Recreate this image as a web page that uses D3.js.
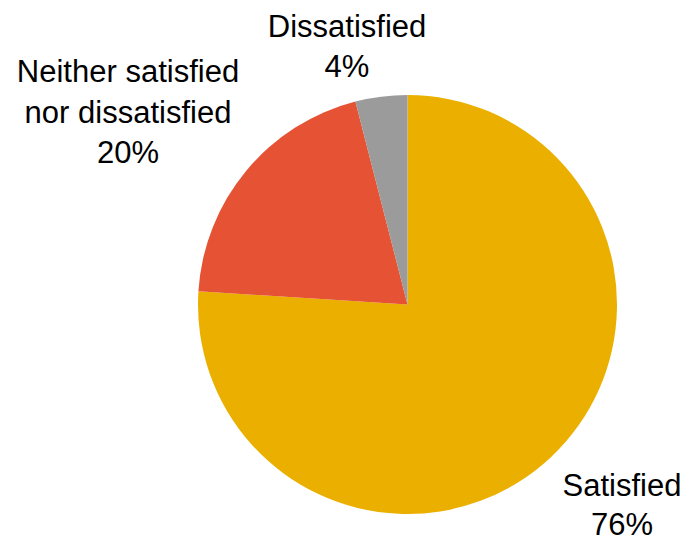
<!DOCTYPE html>
<html>
<head>
<meta charset="utf-8">
<script src="https://cdn.jsdelivr.net/npm/d3@7"></script>
<style>
  html, body { margin: 0; padding: 0; background: #fff; }
  svg { display: block; }
</style>
</head>
<body>
<svg id="chart" width="689" height="542"></svg>
<script>
// Satisfaction breakdown (percent), drawn clockwise from 12 o'clock
const categories = ["Satisfied", "Neither satisfied nor dissatisfied", "Dissatisfied"];
const values = [76, 20, 4];
const labelLines = [
  ["Satisfied", "76%"],
  ["Neither satisfied", "nor dissatisfied", "20%"],
  ["Dissatisfied", "4%"]
];
const colors = ["#EBAF00", "#E55234", "#9B9B9B"];

const svg = d3.select("#chart");
const cx = 407.5, cy = 304.5, radius = 209.5;

const pie = d3.pie().sort(null).value(d => d.value);
const arcs = pie(categories.map((c, i) => ({ name: c, value: values[i], idx: i })));
const arc = d3.arc().innerRadius(0).outerRadius(radius);

const g = svg.append("g").attr("transform", `translate(${cx},${cy})`);
g.selectAll("path")
  .data(arcs)
  .join("path")
  .attr("d", arc)
  .attr("fill", d => colors[d.data.idx]);

// Label anchor points (centre x, first baseline y) placed outside each slice
const labelPos = [
  { x: 622, y: 496, lh: 38.5 },
  { x: 128, y: 82, lh: 40.5 },
  { x: 347, y: 37, lh: 40 }
];

const labels = svg.append("g")
  .attr("font-family", "'Liberation Sans', Arial, sans-serif")
  .attr("font-size", 31)
  .attr("fill", "#000")
  .attr("text-anchor", "middle");

labelLines.forEach((lines, i) => {
  const t = labels.append("text");
  lines.forEach((ln, j) => {
    t.append("tspan")
      .attr("x", labelPos[i].x)
      .attr("y", labelPos[i].y + j * labelPos[i].lh)
      .text(ln);
  });
});
</script>
</body>
</html>
